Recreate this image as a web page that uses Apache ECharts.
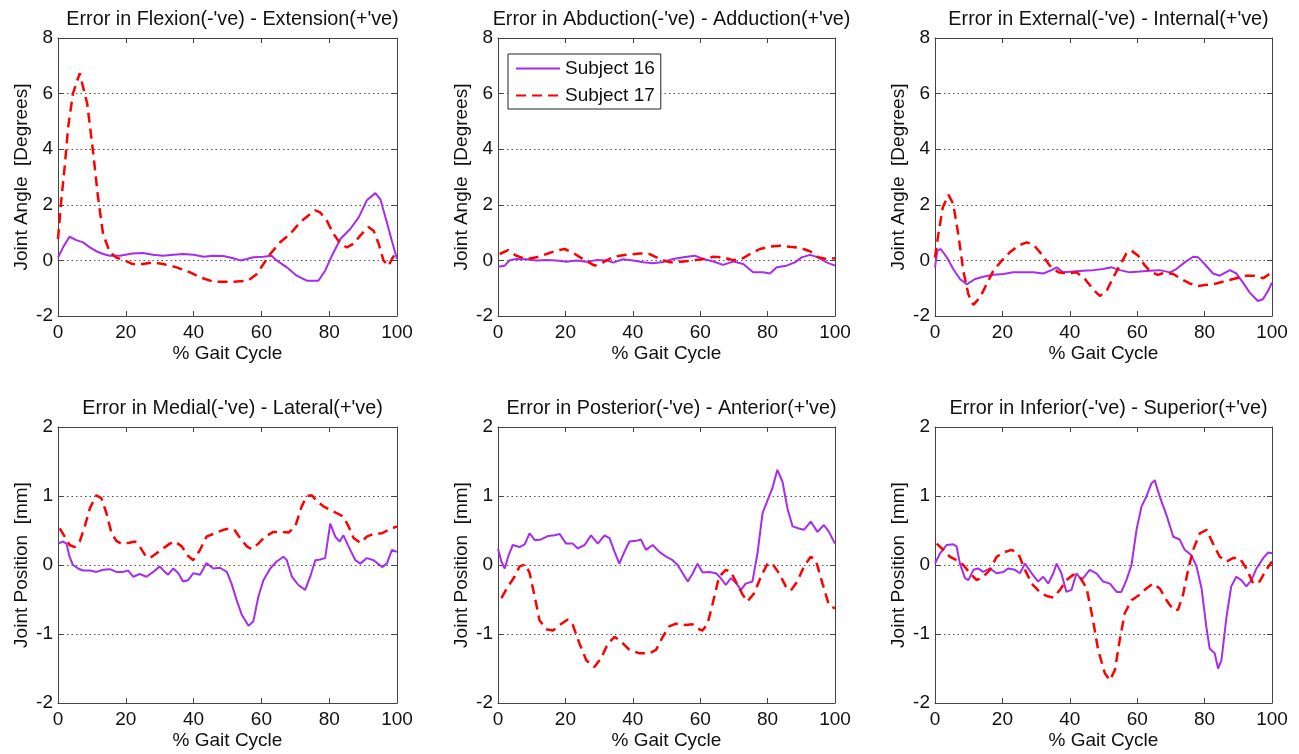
<!DOCTYPE html>
<html>
<head>
<meta charset="utf-8">
<script src="https://cdn.jsdelivr.net/npm/echarts@6/dist/echarts.min.js"></script>
<style>
  html, body { margin: 0; padding: 0; background: #fff; }
  #chart { width: 1299px; height: 754px; }
</style>
</head>
<body>
<div id="chart"></div>
<script>
// % gait cycle vs error as [x, y] pairs
var flexS16 = [[0,0.1],[1.5,0.47],[3.4,0.85],[5.4,0.73],[7.4,0.65],[9.4,0.47],[11.3,0.33],[13.3,0.23],[15.3,0.17],[18.2,0.17],[22,0.25],[25,0.27],[28,0.2],[31,0.17],[34,0.2],[37,0.23],[40,0.2],[43,0.13],[45.8,0.17],[48.8,0.16],[51.7,0.08],[53.7,0],[55.7,0.05],[57.6,0.11],[60.6,0.13],[63,0.17],[64.5,0],[67.5,-0.25],[70.4,-0.55],[73.4,-0.73],[76.8,-0.73],[78.8,-0.37],[80.8,0.17],[83.3,0.77],[86.2,1.13],[88.7,1.55],[91.1,2.16],[93.6,2.42],[95.1,2.2],[97,1.37],[98.5,0.7],[100,0.05]];
var flexS17 = [[0,0.77],[1,2.2],[2,3.4],[3,4.8],[4.4,6.0],[6.4,6.73],[8.6,5.65],[10.3,3.96],[11.8,2.28],[13.3,0.95],[15.3,0.29],[17.2,0.1],[19.7,0],[22,-0.13],[25,-0.13],[28,-0.07],[31,-0.13],[35,-0.25],[39,-0.43],[42,-0.61],[46,-0.77],[51.7,-0.77],[56,-0.73],[58.6,-0.5],[60.6,-0.13],[62.6,0.23],[65.5,0.65],[68.5,0.95],[71.4,1.37],[74.4,1.67],[75.9,1.8],[77.3,1.73],[79.3,1.43],[81.3,0.95],[83.3,0.6],[85.2,0.47],[87.2,0.6],[89.2,0.9],[91.6,1.2],[93.1,1.07],[94.6,0.6],[96,0],[97.5,-0.2],[98.5,0.05],[100,0.35]];

var abdS16 = [[0,-0.23],[2,-0.19],[3.5,0.01],[5.4,0.05],[8.4,0.04],[11.4,0],[14.4,0.01],[17.3,0],[20.3,-0.05],[23.3,0],[26.2,-0.05],[29.2,0.01],[32.2,0],[34.2,-0.08],[37.1,0.04],[40.1,0],[43.1,-0.07],[46,-0.1],[49,-0.06],[52,0.05],[55,0.11],[58.4,0.17],[60.9,0.05],[63.9,-0.04],[66.8,-0.16],[69.8,-0.04],[72.8,-0.13],[75.7,-0.43],[78.7,-0.43],[80.7,-0.47],[82.7,-0.25],[85.6,-0.19],[88.1,-0.07],[90.1,0.11],[92.6,0.2],[95,0.11],[97.5,-0.07],[100,-0.19]];
var abdS17 = [[0.5,0.23],[3,0.37],[5.4,0.17],[8.4,0.05],[11.4,0.11],[14.4,0.23],[17.3,0.35],[19.8,0.41],[22.3,0.27],[25.2,0.05],[28.7,-0.19],[31.2,-0.07],[34.2,0.13],[38.1,0.2],[42.1,0.25],[45,0.23],[48,0.05],[51,-0.07],[54,-0.05],[58,0],[60.9,0.05],[63.9,0.13],[66.8,0.11],[69.8,0.01],[72.3,0.05],[74.8,0.23],[77.7,0.41],[80.7,0.5],[83.7,0.53],[86.6,0.49],[89.6,0.45],[92.6,0.33],[95,0.11],[97.5,0.05],[100,0.08]];

var rotS16 = [[0,-0.25],[0.7,0.35],[1.7,0.41],[3.5,0.11],[5.4,-0.31],[7.4,-0.67],[9.4,-0.86],[11.9,-0.67],[14.3,-0.59],[17.3,-0.52],[20.3,-0.49],[23.2,-0.43],[26.2,-0.43],[29.1,-0.43],[32.1,-0.47],[34.6,-0.35],[36.1,-0.25],[38,-0.43],[41,-0.4],[44,-0.37],[46.9,-0.35],[49.9,-0.31],[52.4,-0.25],[54.8,-0.35],[57.8,-0.43],[60.8,-0.4],[63.7,-0.37],[66.7,-0.35],[69.7,-0.43],[71.6,-0.31],[74.1,-0.07],[76.6,0.13],[78.1,0.11],[80,-0.13],[82.5,-0.47],[84.5,-0.55],[87.5,-0.35],[89.4,-0.47],[91.4,-0.8],[93.4,-1.16],[95.8,-1.46],[97.3,-1.4],[98.8,-1.1],[100,-0.8]];
var rotS17 = [[0,0.1],[1,0.95],[2.3,1.9],[4,2.36],[5.4,2.04],[6.9,0.95],[8.4,-0.37],[9.9,-1.22],[11.4,-1.6],[13.3,-1.34],[15.3,-0.86],[17.3,-0.37],[19.8,-0.01],[22.2,0.29],[24.7,0.53],[27.2,0.65],[29.2,0.57],[31.6,0.23],[34.1,-0.19],[36.6,-0.43],[39,-0.47],[42,-0.43],[44.5,-0.67],[46.9,-1.04],[48.9,-1.28],[50.9,-1.1],[52.9,-0.61],[54.8,-0.19],[56.8,0.25],[58.3,0.35],[60.3,0.17],[62.3,-0.19],[64.2,-0.43],[66.2,-0.52],[68.2,-0.43],[70.7,-0.49],[73.1,-0.67],[75.6,-0.83],[78.1,-0.92],[80.6,-0.88],[83.5,-0.83],[86.5,-0.73],[89.4,-0.64],[92.4,-0.55],[94.9,-0.55],[97.4,-0.64],[100,-0.43]];

var medS16 = [[0,0.31],[1.5,0.34],[2.5,0.31],[3.4,0.12],[4.4,0],[5.9,-0.05],[7.4,-0.08],[9.4,-0.08],[11.3,-0.1],[13.3,-0.07],[15.3,-0.06],[17.2,-0.1],[19.2,-0.1],[20.7,-0.08],[22.2,-0.17],[24.1,-0.13],[26.1,-0.17],[28.1,-0.1],[30,-0.02],[31.5,-0.1],[32.5,-0.14],[34,-0.05],[35.5,-0.12],[36.9,-0.24],[38.4,-0.22],[39.9,-0.12],[41.9,-0.14],[43.8,0.03],[45.8,-0.05],[47.8,-0.04],[49.8,-0.1],[51.2,-0.27],[52.7,-0.51],[54.2,-0.72],[56.2,-0.88],[57.6,-0.82],[59.1,-0.46],[60.6,-0.22],[62.6,-0.05],[64.5,0.05],[66.5,0.12],[67.5,0.07],[69,-0.17],[70.9,-0.29],[72.9,-0.36],[74.4,-0.17],[75.9,0.07],[77.3,0.08],[78.8,0.1],[80.3,0.6],[81.8,0.41],[83.1,0.34],[84.2,0.43],[85.7,0.27],[87.7,0.07],[89.2,0.02],[91.1,0.1],[93.1,0.07],[95.6,-0.03],[97,0.02],[98.5,0.22],[100,0.19]];
var medS17 = [[0.5,0.53],[2,0.41],[3.4,0.29],[4.9,0.26],[6.4,0.34],[7.9,0.56],[9.4,0.82],[11.3,1.01],[12.8,0.97],[14.3,0.75],[15.8,0.46],[17.2,0.35],[18.7,0.31],[20.7,0.32],[22.7,0.34],[24.1,0.27],[25.6,0.15],[27.1,0.1],[29.1,0.17],[31,0.24],[33,0.31],[34.5,0.34],[36.5,0.27],[38.4,0.13],[39.9,0.07],[41.9,0.22],[43.8,0.41],[46.3,0.46],[48.8,0.51],[50.7,0.53],[52.2,0.5],[53.7,0.39],[55.7,0.27],[57.1,0.23],[59.1,0.31],[61.1,0.41],[63.5,0.48],[66,0.48],[68,0.47],[70,0.56],[71.9,0.85],[73.4,1.0],[74.9,1.01],[76.4,0.92],[78.3,0.85],[80.3,0.8],[82.3,0.75],[84.2,0.7],[85.7,0.56],[87.2,0.39],[89.2,0.32],[91.1,0.41],[93.1,0.45],[95.6,0.46],[98,0.52],[100,0.56]];

var postS16 = [[0,0.24],[1,0.05],[2,-0.05],[3,0.12],[4.4,0.29],[6.4,0.26],[7.9,0.3],[9.4,0.46],[10.9,0.36],[12.8,0.37],[14.8,0.42],[16.8,0.43],[18.3,0.45],[20.2,0.31],[22.2,0.31],[23.7,0.24],[25.7,0.29],[27.6,0.43],[29.6,0.31],[31.6,0.43],[33.1,0.39],[34.6,0.19],[36,0.02],[37.5,0.19],[39,0.34],[41,0.35],[42.4,0.37],[43.9,0.22],[45.9,0.29],[47.9,0.19],[49.9,0.12],[51.8,0.07],[53.3,0],[54.8,-0.12],[56.3,-0.24],[57.8,-0.12],[59.2,0.02],[60.7,-0.11],[62.7,-0.1],[64.7,-0.12],[66.1,-0.19],[67.6,-0.29],[69.1,-0.19],[70.6,-0.26],[72.1,-0.36],[73.5,-0.27],[75.5,-0.24],[77,0.17],[78.5,0.75],[80,0.94],[81.4,1.11],[82.9,1.38],[84.4,1.21],[85.9,0.82],[87.4,0.56],[89.3,0.53],[90.8,0.51],[92.8,0.63],[94.8,0.48],[96.7,0.58],[98.2,0.48],[100,0.31]];
var postS17 = [[1,-0.48],[3,-0.31],[4.9,-0.17],[6.4,-0.02],[8.2,0.01],[9.4,-0.12],[10.9,-0.46],[12.3,-0.8],[14.3,-0.93],[16.3,-0.95],[18.3,-0.87],[20.7,-0.79],[22.2,-0.87],[24.2,-1.14],[26.2,-1.38],[28.6,-1.48],[30.6,-1.35],[32.6,-1.14],[34.6,-1.04],[36.5,-1.11],[39,-1.23],[42,-1.28],[44.9,-1.28],[46.9,-1.23],[48.9,-1.04],[50.8,-0.89],[52.8,-0.85],[55.8,-0.87],[57.7,-0.86],[59.2,-0.92],[60.7,-0.95],[62.2,-0.85],[63.7,-0.56],[65.6,-0.17],[67.6,-0.07],[69.1,-0.1],[71.1,-0.29],[72.6,-0.43],[74,-0.53],[76,-0.41],[78,-0.17],[80,0.02],[81.4,0.02],[83.4,-0.12],[85.4,-0.31],[86.9,-0.37],[88.8,-0.24],[90.8,-0.02],[92.8,0.12],[94.3,0.07],[96.3,-0.27],[98.2,-0.58],[100,-0.63]];

var infS16 = [[0,0.02],[1.5,0.17],[3.5,0.29],[5.4,0.3],[6.4,0.27],[7.4,0.02],[8.9,-0.19],[9.9,-0.22],[11.4,-0.07],[12.8,-0.05],[14.3,-0.1],[16.3,-0.05],[18.3,-0.12],[20.3,-0.1],[21.7,-0.05],[23.7,-0.07],[25.2,-0.12],[26.7,0.02],[28.7,-0.12],[30.6,-0.24],[32.1,-0.17],[33.6,-0.27],[35.1,-0.12],[36.1,0.02],[37.5,-0.12],[39,-0.39],[40.5,-0.36],[42,-0.12],[43.5,-0.22],[45.9,-0.07],[47.9,-0.12],[49.9,-0.24],[51.9,-0.27],[53.9,-0.39],[55.3,-0.39],[56.8,-0.22],[58.3,0],[59.8,0.51],[61.3,0.85],[62.7,0.99],[64.2,1.18],[65.2,1.23],[66.7,0.99],[68.7,0.72],[70.7,0.41],[72.6,0.37],[74.1,0.22],[76.1,0.14],[77.6,-0.02],[79.1,-0.34],[80.5,-0.89],[81.5,-1.21],[83,-1.28],[84,-1.5],[85,-1.38],[86.5,-0.75],[87.9,-0.31],[89.4,-0.17],[90.9,-0.22],[92.4,-0.31],[93.9,-0.22],[95.4,-0.05],[97.4,0.1],[98.8,0.18],[100,0.17]];
var infS17 = [[0.5,0.31],[2.5,0.22],[4.4,0.12],[6.4,0.07],[8.4,0],[10.4,-0.12],[12.4,-0.22],[14.3,-0.17],[16.3,-0.07],[18.3,0.12],[20.3,0.18],[22.7,0.22],[24.7,0.17],[26.7,-0.07],[28.7,-0.27],[31.1,-0.39],[33.1,-0.45],[35.1,-0.47],[37.1,-0.36],[39,-0.22],[41,-0.14],[43,-0.17],[45,-0.34],[46.9,-0.8],[48.4,-1.23],[50.4,-1.57],[51.9,-1.67],[53.4,-1.52],[54.8,-1.09],[56.3,-0.7],[58.3,-0.51],[60.8,-0.43],[62.7,-0.34],[64.7,-0.27],[66.7,-0.34],[68.7,-0.51],[70.7,-0.65],[72.1,-0.65],[73.6,-0.43],[75.1,-0.07],[76.6,0.22],[78.6,0.46],[80.6,0.51],[82.5,0.31],[84.5,0.12],[86.5,0.05],[88.4,0.1],[90.4,0.1],[92.4,-0.05],[94.4,-0.27],[96.3,-0.24],[98.3,-0.07],[100,0.05]];

var panelTitles = [
  "Error in Flexion(-'ve) - Extension(+'ve)",
  "Error in Abduction(-'ve) - Adduction(+'ve)",
  "Error in External(-'ve) - Internal(+'ve)",
  "Error in Medial(-'ve) - Lateral(+'ve)",
  "Error in Posterior(-'ve) - Anterior(+'ve)",
  "Error in Inferior(-'ve) - Superior(+'ve)"
];
var yNames = ['Joint Angle  [Degrees]', 'Joint Position  [mm]'];
var xName = '% Gait Cycle';
var s16 = [flexS16, abdS16, rotS16, medS16, postS16, infS16];
var s17 = [flexS17, abdS17, rotS17, medS17, postS17, infS17];

var FONT = '"Liberation Sans", Arial, Helvetica, sans-serif';
var PURPLE = '#a52cf0';
var RED = '#ff0000';
var AXIS = '#444';

// plot boxes (px)
var cols = [[58, 339], [498, 337], [935, 337]];
var rows = [[38, 278], [427, 276]];

var chart = echarts.init(document.getElementById('chart'));

var grid = [], xAxis = [], yAxis = [], title = [], series = [];

for (var i = 0; i < 6; i++) {
  var c = cols[i % 3], r = rows[Math.floor(i / 3)];
  var isTop = i < 3;
  grid.push({ left: c[0], top: r[0], width: c[1], height: r[1], containLabel: false });

  title.push({
    text: panelTitles[i],
    left: c[0] + c[1] / 2,
    top: isTop ? 5 : 394,
    textAlign: 'center',
    textStyle: { fontFamily: FONT, fontSize: 19.8, fontWeight: 'normal', color: '#111' }
  });

  var tick = { show: true, inside: true, length: 5, lineStyle: { color: AXIS } };
  var line = { show: true, onZero: false, lineStyle: { color: AXIS, width: 1 } };
  var lbl = { fontFamily: FONT, fontSize: 19, color: '#111' };

  // bottom x axis with labels, top x axis only for the box
  xAxis.push({
    type: 'value', gridIndex: i, min: 0, max: 100, interval: 20,
    name: xName, nameLocation: 'middle', nameGap: 28,
    nameTextStyle: lbl,
    axisLine: line, axisTick: tick,
    axisLabel: Object.assign({ margin: 7 }, lbl),
    splitLine: { show: false }
  });
  xAxis.push({
    type: 'value', gridIndex: i, position: 'top', min: 0, max: 100, interval: 20,
    axisLine: line, axisTick: tick, axisLabel: { show: false }, splitLine: { show: false }
  });

  var ymin = -2, ymax = isTop ? 8 : 2, yint = isTop ? 2 : 1;
  yAxis.push({
    type: 'value', gridIndex: i, min: ymin, max: ymax, interval: yint,
    name: yNames[isTop ? 0 : 1], nameLocation: 'middle', nameGap: 27,
    nameTextStyle: lbl,
    axisLine: line, axisTick: tick,
    axisLabel: Object.assign({ margin: 5 }, lbl),
    splitLine: { show: true, lineStyle: { color: '#555', width: 1, type: [1.5, 3] } }
  });
  yAxis.push({
    type: 'value', gridIndex: i, position: 'right', min: ymin, max: ymax, interval: yint,
    axisLine: line, axisTick: tick, axisLabel: { show: false }, splitLine: { show: false }
  });

  series.push({
    name: 'Subject 16', type: 'line', xAxisIndex: i * 2, yAxisIndex: i * 2,
    data: s16[i], symbol: 'none', animation: false,
    lineStyle: { color: PURPLE, width: 2 }, itemStyle: { color: PURPLE }
  });
  series.push({
    name: 'Subject 17', type: 'line', xAxisIndex: i * 2, yAxisIndex: i * 2,
    data: s17[i], symbol: 'none', animation: false,
    lineStyle: { color: RED, width: 2.5, type: [10, 6] }, itemStyle: { color: RED }
  });
}

var option = {
  backgroundColor: '#fff',
  animation: false,
  title: title,
  legend: {
    data: ['Subject 16', 'Subject 17'],
    orient: 'vertical',
    left: 508, top: 54,
    itemWidth: 44, itemHeight: 14, itemGap: 8,
    padding: [5, 6, 4, 7],
    borderColor: '#222', borderWidth: 1,
    backgroundColor: '#fff',
    // hide the marker dot, keep only the line sample
    itemStyle: { color: 'rgba(0,0,0,0)', borderWidth: 0, opacity: 0 },
    textStyle: { fontFamily: FONT, fontSize: 19, color: '#111' }
  },
  grid: grid,
  xAxis: xAxis,
  yAxis: yAxis,
  series: series
};

chart.setOption(option);
</script>
</body>
</html>
